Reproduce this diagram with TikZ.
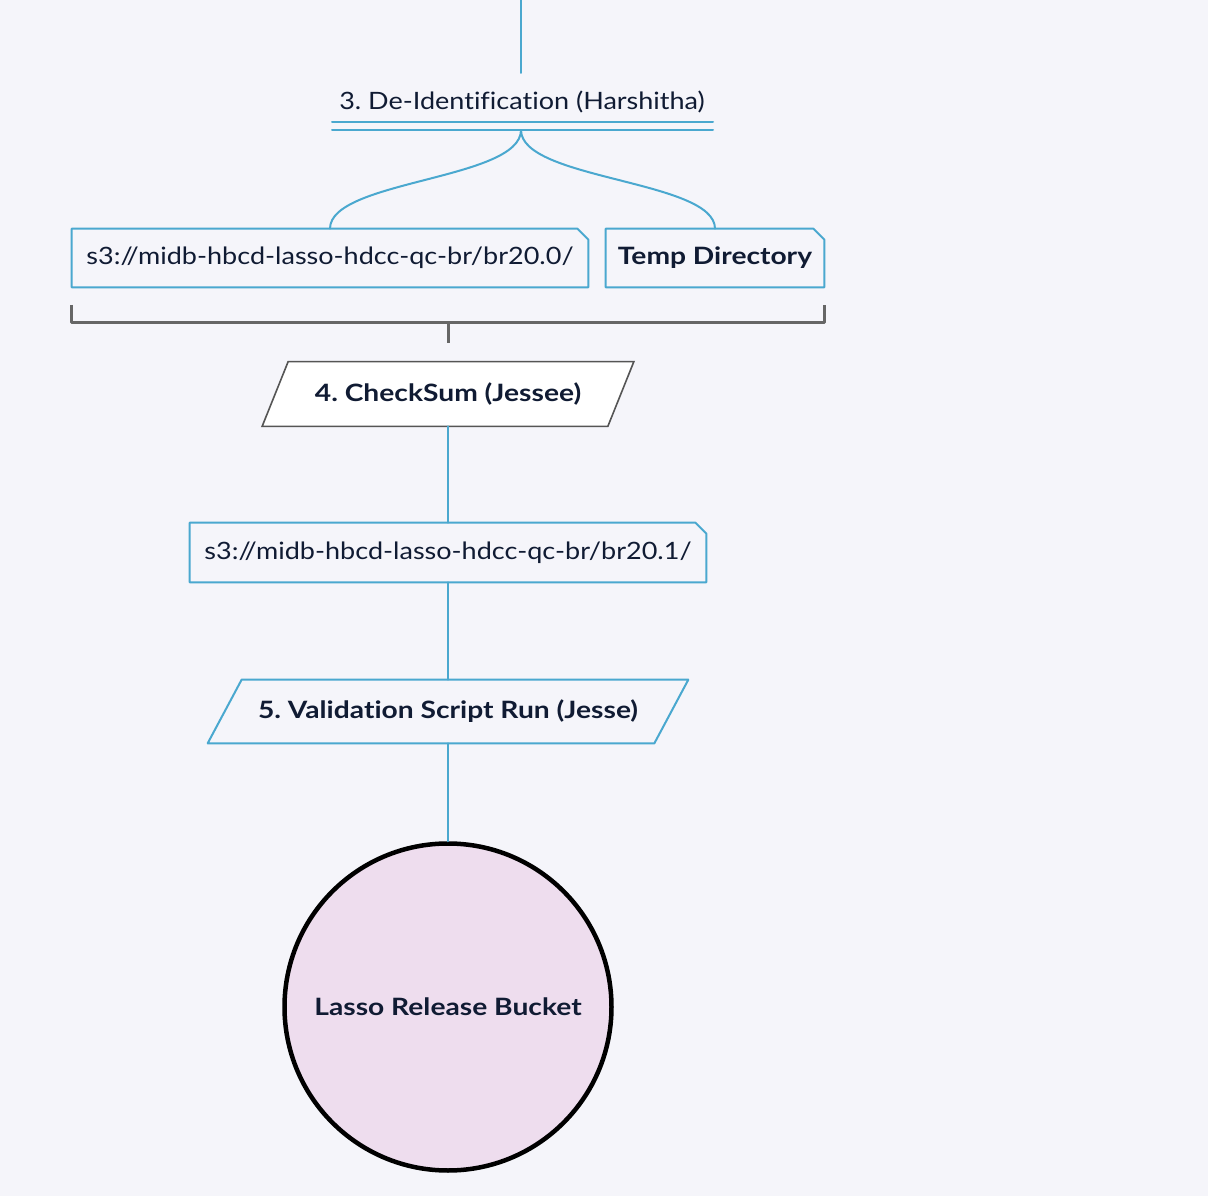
\documentclass[tikz,border=0pt]{standalone}
\usepackage{fontspec}
\setmainfont{Lato}[Ligatures=NoCommon, FakeStretch=1.13, BoldFeatures={FakeStretch=1.18}]
\usetikzlibrary{calc,backgrounds}
\definecolor{bg}{HTML}{F5F5FA}
\definecolor{lblue}{HTML}{4AA8CF}
\definecolor{ink}{HTML}{101B33}
\definecolor{brgray}{HTML}{666666}
\definecolor{pgray}{HTML}{555555}
\definecolor{bucketpink}{HTML}{EEDDEE}
\newdimen\pix \pix=0.02cm
\frenchspacing
\tikzset{
	bl/.style={draw=lblue, line width=2*\pix},
	txt/.style={inner sep=0, text=ink},
	s3box/.style={txt, minimum height=58*\pix},
	para/.style={txt, minimum height=64*\pix}
}
% box with folded top right corner
\newcommand\foldbox[1]{\draw[bl] (#1.south west) -- (#1.north west) -- ($(#1.north east)+(-11,0)$) -- ($(#1.north east)+(0,11)$) -- (#1.south east) -- cycle;}
\begin{document}
\begin{tikzpicture}[x=0.02cm, y=-0.02cm, font=\fontsize{13.6}{16}\selectfont, line join=round, line cap=round]
	\useasboundingbox (0,0) rectangle (1208,1196);
	\node[txt] (deid) at (522,102) {3. De-Identification (Harshitha)};
	\node[s3box, minimum width=516*\pix] (br200) at (330,258) {s3://midb-hbcd-lasso-hdcc-qc-br/br20.0/};
	\node[s3box, minimum width=218*\pix] (tmp) at (715,258) {\bfseries Temp Directory};
	\node[para, minimum width=345*\pix] (chk) at (448,394) {\bfseries 4. CheckSum (Jessee)};
	\node[s3box, minimum width=516*\pix, minimum height=59*\pix] (br201) at (448,552.5) {s3://midb-hbcd-lasso-hdcc-qc-br/br20.1/};
	\node[para, minimum width=446*\pix, minimum height=63*\pix] (val) at (448,711.5) {\bfseries 5. Validation Script Run (Jesse)};
	\node[circle, draw=black, line width=4.5*\pix, fill=bucketpink, text=ink, minimum size=327*\pix] (bucket) at (448,1007) {\bfseries Lasso Release Bucket};
	\coordinate (in) at (521,0);
	\coordinate (inend) at (521,73);
	\coordinate (split) at (521,130);
	\coordinate (brstem) at (448,343);
	\begin{pgfonlayer}{background}
		\fill[bg] (0,0) rectangle (1208,1196);
		\draw[pgray, line width=1.6*\pix, fill=white] ($(chk.north west)+(13,0)$) -- ($(chk.north east)+(13,0)$) -- ($(chk.south east)+(-13,0)$) -- ($(chk.south west)+(-13,0)$) -- cycle;
	\end{pgfonlayer}
	\draw[bl] (in) -- (inend);
	\draw[bl] (332,122) -- (713,122) (332,130) -- (713,130);
	\draw[bl] (split) .. controls (521,180) and (330,180) .. (br200.north);
	\draw[bl] (split) .. controls (521,180) and (715,180) .. (tmp.north);
	\foldbox{br200} \foldbox{tmp} \foldbox{br201}
	\draw[brgray, line width=3*\pix, line cap=butt] (71,305) -- (71,323) -- (824,323) -- (824,305)
		(448,323) -- (brstem);
	\draw[bl] ($(val.north west)+(17,0)$) -- ($(val.north east)+(17,0)$) -- ($(val.south east)+(-17,0)$) -- ($(val.south west)+(-17,0)$) -- cycle;
	\draw[bl] (chk.south) -- (br201.north);
	\draw[bl] (br201.south) -- (val.north);
	\draw[bl] (val.south) -- (bucket.north);
\end{tikzpicture}
\end{document}
